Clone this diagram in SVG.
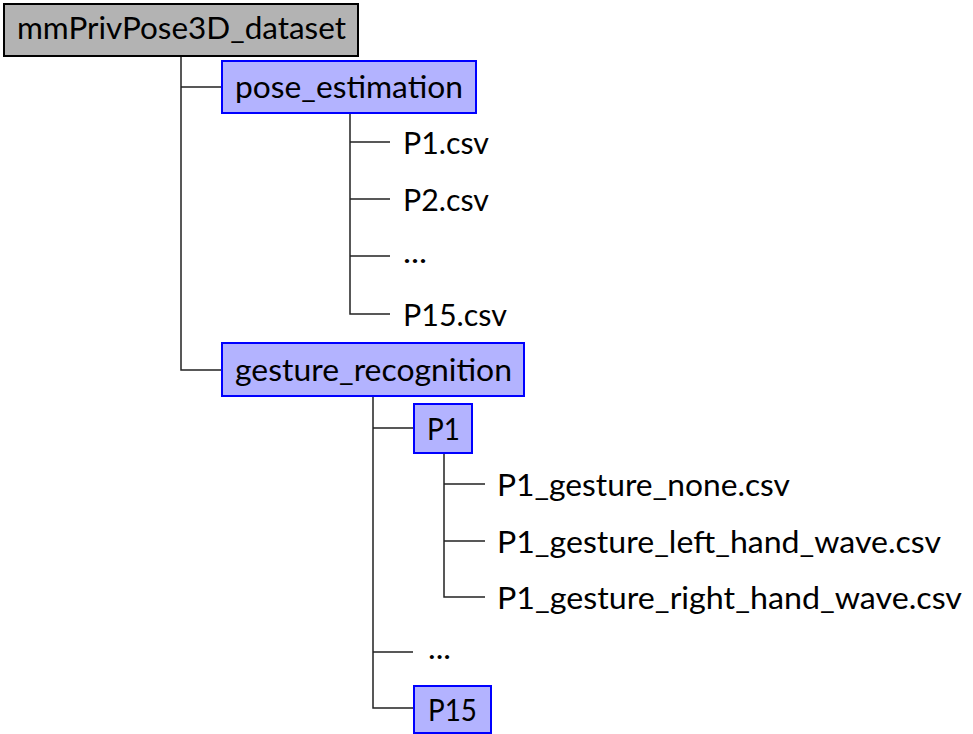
<svg xmlns="http://www.w3.org/2000/svg" width="973" height="734" viewBox="0 0 973 734">
<style>
text{font-family:Lato,"Open Sans",sans-serif;font-size:30px;fill:#000}
.root{fill:#b3b3b3;stroke:#000;stroke-width:2}
.dir{fill:#b3b3ff;stroke:#0000ff;stroke-width:2}
.c{stroke:#222;stroke-width:1.5;fill:none}
</style>
<rect width="973" height="734" fill="#fff"/>
<g id="connectors">
<path class="c" d="M181,56V370H222M181,87H222"/>
<path class="c" d="M350,113V314H390M350,142H390M350,199H390M350,256H390"/>
<path class="c" d="M373,396V708H414M373,428H414M373,652H413"/>
<path class="c" d="M444,453V597H485M444,484H485M444,541H485"/>
</g>
<g id="root"><rect class="root" x="4" y="4" width="354" height="52"/><text x="17" y="39" textLength="329" lengthAdjust="spacingAndGlyphs">mmPrivPose3D_dataset</text></g>
<g id="pose_estimation"><rect class="dir" x="222" y="61" width="254" height="52"/><text x="235" y="98" textLength="228" lengthAdjust="spacingAndGlyphs">pose_estimation</text></g>
<g id="p1csv"><text x="403" y="153.5" textLength="86" lengthAdjust="spacingAndGlyphs">P1.csv</text></g>
<g id="p2csv"><text x="403" y="210.5" textLength="86" lengthAdjust="spacingAndGlyphs">P2.csv</text></g>
<g id="pdots"><text x="403" y="263" textLength="24" lengthAdjust="spacingAndGlyphs">...</text></g>
<g id="p15csv"><text x="403" y="325.5" textLength="104" lengthAdjust="spacingAndGlyphs">P15.csv</text></g>
<g id="gesture_recognition"><rect class="dir" x="222" y="343" width="302" height="53"/><text x="235" y="381" textLength="277" lengthAdjust="spacingAndGlyphs">gesture_recognition</text></g>
<g id="P1"><rect class="dir" x="414" y="404" width="58" height="49"/><text x="427" y="440" textLength="33" lengthAdjust="spacingAndGlyphs">P1</text></g>
<g id="g1"><text x="497" y="495.5" textLength="293" lengthAdjust="spacingAndGlyphs">P1_gesture_none.csv</text></g>
<g id="g2"><text x="497" y="552.5" textLength="444" lengthAdjust="spacingAndGlyphs">P1_gesture_left_hand_wave.csv</text></g>
<g id="g3"><text x="497" y="608.5" textLength="465" lengthAdjust="spacingAndGlyphs">P1_gesture_right_hand_wave.csv</text></g>
<g id="gdots"><text x="428" y="659" textLength="23" lengthAdjust="spacingAndGlyphs">...</text></g>
<g id="P15"><rect class="dir" x="414" y="686" width="77" height="47"/><text x="428" y="721" textLength="49" lengthAdjust="spacingAndGlyphs">P15</text></g>
</svg>
